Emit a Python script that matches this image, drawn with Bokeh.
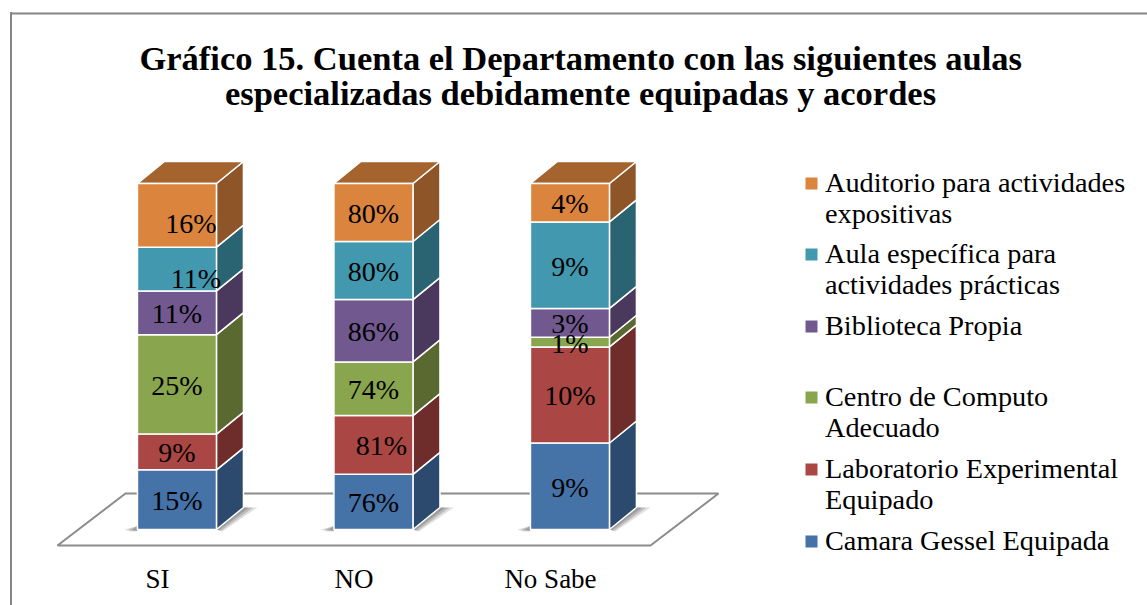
from bokeh.plotting import figure
from bokeh.embed import file_html
from bokeh.resources import INLINE
from bokeh.core.properties import value
from bokeh.models import Range1d, FixedTicker, LinearAxis

TITLE_LINES = ["Gráfico 15. Cuenta el Departamento con  las siguientes aulas",
               "especializadas debidamente equipadas y acordes"]
CATEGORIES = ["SI", "NO", "No Sabe"]
SERIES = [
    ["Camara Gessel Equipada"],
    ["Laboratorio Experimental", "Equipado"],
    ["Centro de Computo", "Adecuado"],
    ["Biblioteca Propia"],
    ["Aula específica para", "actividades prácticas"],
    ["Auditorio para actividades", "expositivas"],
]
camara = [15, 76, 9]
laboratorio = [9, 81, 10]
centro = [25, 74, 1]
biblioteca = [11, 86, 3]
aula = [11, 80, 9]
auditorio = [16, 80, 4]
VALUES = [camara, laboratorio, centro, biblioteca, aula, auditorio]

FRONT = ["#4572A7", "#AA4643", "#89A54E", "#71588F", "#4198AF", "#DB843D"]
SIDE = ["#2C4A6E", "#6E2D2B", "#59692F", "#4A395D", "#2A6372", "#8E5628"]
TOP = "#A5632E"
SERIF = "Liberation Serif"

# pixel <-> data scale of the plot area
FIG_W, FRAME_H, AXIS_H = 1147, 560, 45
XU, YU = 196.5, 3.46          # px per category, px per percent
X0_PX, Y0_PX = 157, 529       # page px of category 0 and of 0 %
def dx(px): return (px - X0_PX) / XU
def dy(px): return (Y0_PX - px) / YU

BAR_L, BAR_R = -0.102, 0.300  # front face relative to the category
DEPTH_X, DEPTH_Y = 27 / XU, 22 / YU
FLOOR_X, FLOOR_Y = 68 / XU, 52 / YU

p = figure(frame_width=FIG_W, frame_height=FRAME_H, output_backend="svg", toolbar_location=None,
           x_range=Range1d(dx(0), dx(FIG_W)), y_range=Range1d(dy(FRAME_H), dy(0)),
           x_axis_type=None, y_axis_type=None, min_border=0, min_border_bottom=AXIS_H,
           outline_line_color=None, background_fill_color=None, border_fill_color=None)
p.grid.visible = False
p.styles = {"background": "linear-gradient(#868686,#868686) no-repeat 10px 12px / 2px 100%"}

axis = LinearAxis(ticker=FixedTicker(ticks=list(range(len(CATEGORIES)))),
                  major_label_overrides={i: c for i, c in enumerate(CATEGORIES)},
                  axis_line_color=None, major_tick_line_color=None, minor_tick_line_color=None,
                  major_tick_out=0, major_tick_in=0, major_label_standoff=3,
                  major_label_text_font=SERIF, major_label_text_font_size="27px",
                  major_label_text_color="#000000")
p.add_layout(axis, "below")

# chart frame (top edge)
p.segment(dx(10), dy(13), dx(FIG_W), dy(13), line_color="#868686", line_width=2)

# floor
fy0, fx0, fx1 = dy(545), -0.509, 2.509
p.patch([fx0, fx1, fx1 + FLOOR_X, fx0 + FLOOR_X], [fy0, fy0, fy0 + FLOOR_Y, fy0 + FLOOR_Y],
        fill_color="#FFFFFF", line_color="#8C8C8C", line_width=2)

# stacks
n = len(CATEGORIES)
for i in range(n):
    total = sum(s[i] for s in VALUES)
    l, r = i + BAR_L, i + BAR_R
    # soft shadow at the base
    for grow, alpha in ((1.0, 0.2), (0.7, 0.3), (0.4, 0.35)):
        p.patch([r, r + DEPTH_X, r + DEPTH_X + grow * 14 / XU, r + grow * 6 / XU],
                [0, DEPTH_Y, DEPTH_Y, -grow * 2 / YU],
                fill_color="#666666", fill_alpha=alpha, line_color=None)
        p.patch([l - grow * 13 / XU, l, l, l - grow * 8 / XU],
                [0, 1, -grow * 2 / YU, -grow * 2 / YU],
                fill_color="#666666", fill_alpha=alpha, line_color=None)
    base = 0.0
    for k, s in enumerate(VALUES):
        h = 100.0 * s[i] / total
        b, t = base, base + h
        p.patch([r, r + DEPTH_X, r + DEPTH_X, r], [b, b + DEPTH_Y, t + DEPTH_Y, t],
                fill_color=SIDE[k], line_color="#FFFFFF", line_width=1.5)
        if k == len(VALUES) - 1:
            p.patch([l, r, r + DEPTH_X, l + DEPTH_X], [t, t, t + DEPTH_Y, t + DEPTH_Y],
                    fill_color=TOP, line_color="#FFFFFF", line_width=1.5)
        p.quad(left=l, right=r, bottom=b, top=t, fill_color=FRONT[k],
               line_color="#FFFFFF", line_width=1.5)
        base = t

# value labels (a few sit off-centre in the original)
NUDGE = {(0, 5): (14, 7), (0, 4): (19, 8), (1, 1): (8, 0)}
for i in range(n):
    total = sum(s[i] for s in VALUES)
    base = 0.0
    for k, s in enumerate(VALUES):
        h = 100.0 * s[i] / total
        nx, ny = NUDGE.get((i, k), (0, 0))
        p.text([i + (BAR_L + BAR_R) / 2 + nx / XU], [base + h / 2 - (1.0 + ny) / YU], text=[f"{s[i]}%"],
               text_font=value(SERIF), text_font_size="28px", text_color="#000000",
               text_align="center", text_baseline="middle")
        base += h

# legend
LEGEND_Y = [540, 468, 396, 325, 253, 182]
for k, lines in enumerate(SERIES):
    y = LEGEND_Y[k]
    p.scatter([dx(811)], [dy(y + 1)], marker="square", size=12, fill_color=FRONT[k], line_color=None)
    for j, line in enumerate(lines):
        p.text([dx(824.5)], [dy(y + 31 * j)], text=[line], text_font=value(SERIF),
               text_font_size="28.3px", text_color="#000000", text_align="left", text_baseline="middle")

# title
TITLE_X = [584.5, 580]
for j, line in enumerate(TITLE_LINES):
    p.text([dx(TITLE_X[j])], [dy(57 + 35 * j)], text=[line], text_font=value(SERIF),
           text_font_size="34.5px", text_font_style="bold", text_color="#000000",
           text_align="center", text_baseline="middle")

open("out.html", "w").write(file_html(p, INLINE))
